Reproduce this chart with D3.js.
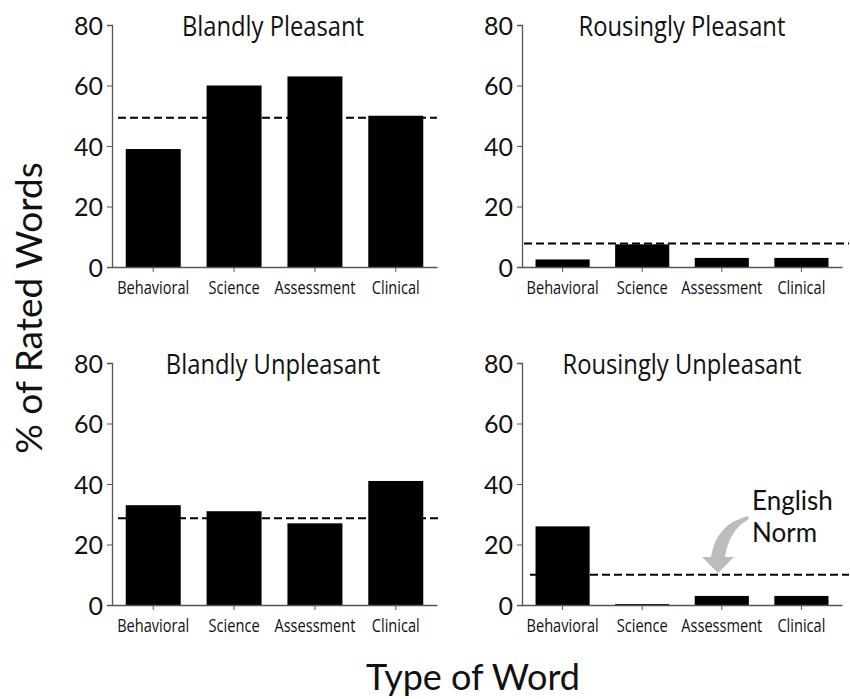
<!DOCTYPE html>
<html><head><meta charset="utf-8">
<script src="https://cdn.jsdelivr.net/npm/d3@7"></script>
<style>
body{margin:0;background:#fff;}
svg{display:block;}
.cond{font-family:"Open Sans",sans-serif;}
.geo{font-family:Lato,"Open Sans",sans-serif;}
</style></head>
<body>
<svg id="chart" width="850" height="699"></svg>
<script>
const categories = ["Behavioral", "Science", "Assessment", "Clinical"];
const panelTitles = ["Blandly Pleasant", "Rousingly Pleasant", "Blandly Unpleasant", "Rousingly Unpleasant"];
const blandlyPleasant = [39, 60, 63, 50];
const rousinglyPleasant = [2.5, 7.5, 3, 3];
const blandlyUnpleasant = [33, 31, 27, 41];
const rousinglyUnpleasant = [26, 0.3, 3, 3];
const englishNorms = [49.3, 7.8, 28.7, 10];
const yTicks = [0, 20, 40, 60, 80];

const seriesList = [blandlyPleasant, rousinglyPleasant, blandlyUnpleasant, rousinglyUnpleasant];
const svg = d3.select("#chart");

const layouts = [
  {x0:112, x1:437, yTop:25, yBot:267, dash0:118, dash1:437, tx:273},
  {x0:522, x1:842, yTop:25, yBot:267, dash0:524, dash1:849, tx:682},
  {x0:112, x1:437, yTop:363, yBot:605, dash0:118, dash1:438, tx:273},
  {x0:522, x1:842, yTop:363, yBot:605, dash0:530, dash1:849, tx:682}
];

// condense text horizontally (emulating a condensed typeface)
function condense(sel, k) {
  sel.each(function() {
    const w = this.getComputedTextLength();
    d3.select(this).attr("textLength", w * k).attr("lengthAdjust", "spacingAndGlyphs");
  });
}

seriesList.forEach((vals, i) => {
  const L = layouts[i];
  const x = d3.scaleBand().domain(categories).range([L.x0, L.x1]).paddingInner(0.32).paddingOuter(0.17);
  const y = d3.scaleLinear().domain([0, 80]).range([L.yBot, L.yTop]);
  const g = svg.append("g");

  g.selectAll("rect.bar").data(categories).enter().append("rect")
    .attr("x", d => x(d)).attr("width", x.bandwidth())
    .attr("y", (d, k) => y(vals[k])).attr("height", (d, k) => y(0) - y(vals[k]))
    .attr("fill", "#000");

  const ya = g.append("g").attr("transform", `translate(${L.x0},0)`)
    .call(d3.axisLeft(y).tickValues(yTicks).tickSize(5).tickPadding(4));
  ya.attr("font-family", null);
  ya.select(".domain").attr("stroke", "#555").attr("stroke-width", 1.3);
  ya.selectAll(".tick line").attr("stroke", "#555");
  ya.selectAll("text").attr("class", "geo").attr("font-size", 25).attr("fill", "#111").attr("dy", "0.36em");

  const xa = g.append("g").attr("transform", `translate(0,${L.yBot})`)
    .call(d3.axisBottom(x).tickSize(5).tickPadding(9).tickSizeOuter(0));
  xa.attr("font-family", null);
  xa.select(".domain").attr("stroke", "#555").attr("stroke-width", 1.3);
  xa.selectAll(".tick line").attr("stroke", "#555");
  xa.selectAll("text").attr("class", "cond").attr("font-size", 18).attr("fill", "#111")
    .call(condense, 0.81);

  g.append("line").attr("x1", L.dash0).attr("x2", L.dash1)
    .attr("y1", y(englishNorms[i])).attr("y2", y(englishNorms[i]))
    .attr("stroke", "#000").attr("stroke-width", 2).attr("stroke-dasharray", "8,4");

  g.append("text").attr("class", "cond")
    .attr("x", L.tx).attr("y", L.yTop + 11)
    .attr("text-anchor", "middle").attr("font-size", 27).attr("fill", "#111")
    .text(panelTitles[i])
    .call(condense, 0.88);
});

// English Norm annotation
svg.append("path")
  .attr("d", "M748,516 Q716,524 711,557 L702,557 L718,573 L734,557 L725,557 Q729,530 749,519 Z")
  .attr("fill", "#bcbcbc");
const ann = svg.append("text").attr("class", "geo").attr("font-size", 26).attr("fill", "#111");
ann.append("tspan").attr("x", 752).attr("y", 510).text("English");
ann.append("tspan").attr("x", 752).attr("y", 542).text("Norm");

svg.append("text").attr("class", "geo").attr("font-size", 37).attr("fill", "#111")
  .attr("text-anchor", "middle")
  .attr("transform", "translate(42,308) rotate(-90)")
  .text("% of Rated Words");
svg.append("text").attr("class", "geo").attr("font-size", 36).attr("fill", "#111")
  .attr("text-anchor", "middle").attr("x", 473).attr("y", 690)
  .text("Type of Word");
</script>
</body></html>
